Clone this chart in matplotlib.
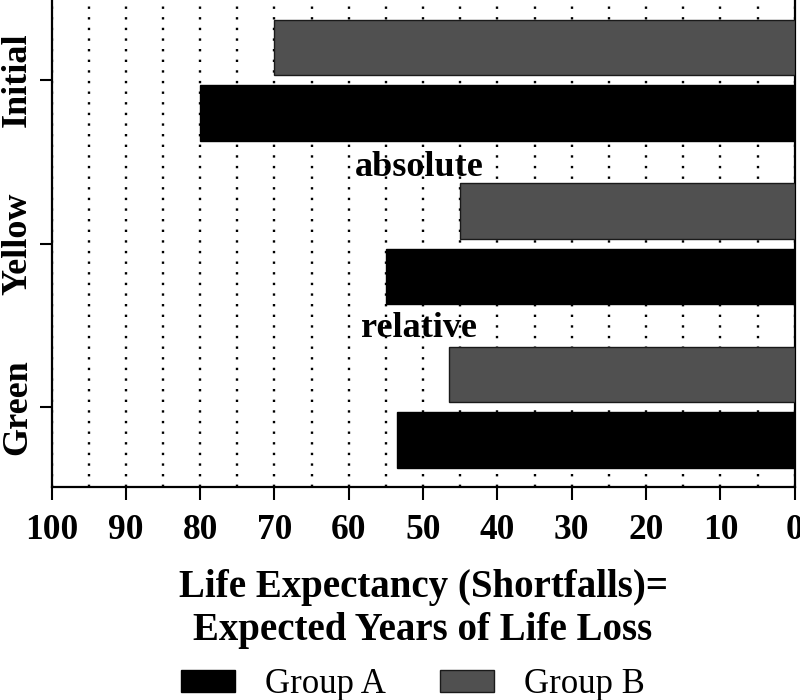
import matplotlib
matplotlib.use("Agg")
import matplotlib.pyplot as plt
import numpy as np

# data
categories = ["Green", "Yellow", "Initial"]
group_a = [53.5, 55, 80]
group_b = [46.5, 45, 70]
x_ticks = [100, 90, 80, 70, 60, 50, 40, 30, 20, 10, 0]
notes = ["absolute", "relative"]
note_x = [50.5, 50.5]
note_y = [1.415, 0.431]

plt.rcParams["font.family"] = ["Liberation Serif", "DejaVu Serif"]

fig = plt.figure(figsize=(8, 7), dpi=100)
ax = fig.add_axes([0.0644, 0.304, 0.929, 0.696])

y = np.arange(len(categories))
bar_h = 0.34
ax.barh(y - 0.2, group_a, height=bar_h, color="black", edgecolor="black",
        linewidth=1, label="Group A", zorder=3)
ax.barh(y + 0.2, group_b, height=bar_h, color="#505050", edgecolor="#1a1a1a",
        linewidth=1, label="Group B", zorder=3)

# reversed x axis, 100 on the left
ax.set_xlim(100, 0)
ax.set_ylim(-0.49, 2.49)
ax.set_xticks(x_ticks)
ax.set_xticklabels([str(t) for t in x_ticks], fontsize=25.5, fontweight="bold")
ax.set_xticks(np.arange(5, 100, 5), minor=True)
ax.set_yticks(y)
ax.set_yticklabels(categories, rotation=90, fontsize=26, fontweight="bold",
                   va="center")

ax.tick_params(axis="x", which="major", direction="out", length=9, width=1.5, pad=10)
ax.tick_params(axis="x", which="minor", length=0)
ax.tick_params(axis="y", direction="out", length=8.5, width=1.5, pad=4)

# dotted vertical grid every 5 years
ax.set_axisbelow(True)
ax.grid(axis="x", which="both", color="black", linestyle=(0, (1, 3.5)), linewidth=1.7)
ax.grid(axis="y", visible=False)

ax.spines["top"].set_visible(False)
for s in ["left", "bottom", "right"]:
    ax.spines[s].set_linewidth(1.6)

for txt, xv, yv in zip(notes, note_x, note_y):
    ax.text(xv, yv, txt, ha="center", va="baseline", fontsize=26,
            fontweight="bold", zorder=4)

ax.set_xlabel("Life Expectancy (Shortfalls)=\nExpected Years of Life Loss",
              fontsize=28, fontweight="bold", va="top")
ax.xaxis.set_label_coords(0.5, -0.168)

fig.legend(loc="center", bbox_to_anchor=(0.516, 0.022), ncol=2, frameon=False,
           fontsize=25, handlelength=1.55, handleheight=0.57, handletextpad=0.86,
           columnspacing=1.57, borderpad=0, borderaxespad=0)

plt.savefig("out.png", dpi=100)
